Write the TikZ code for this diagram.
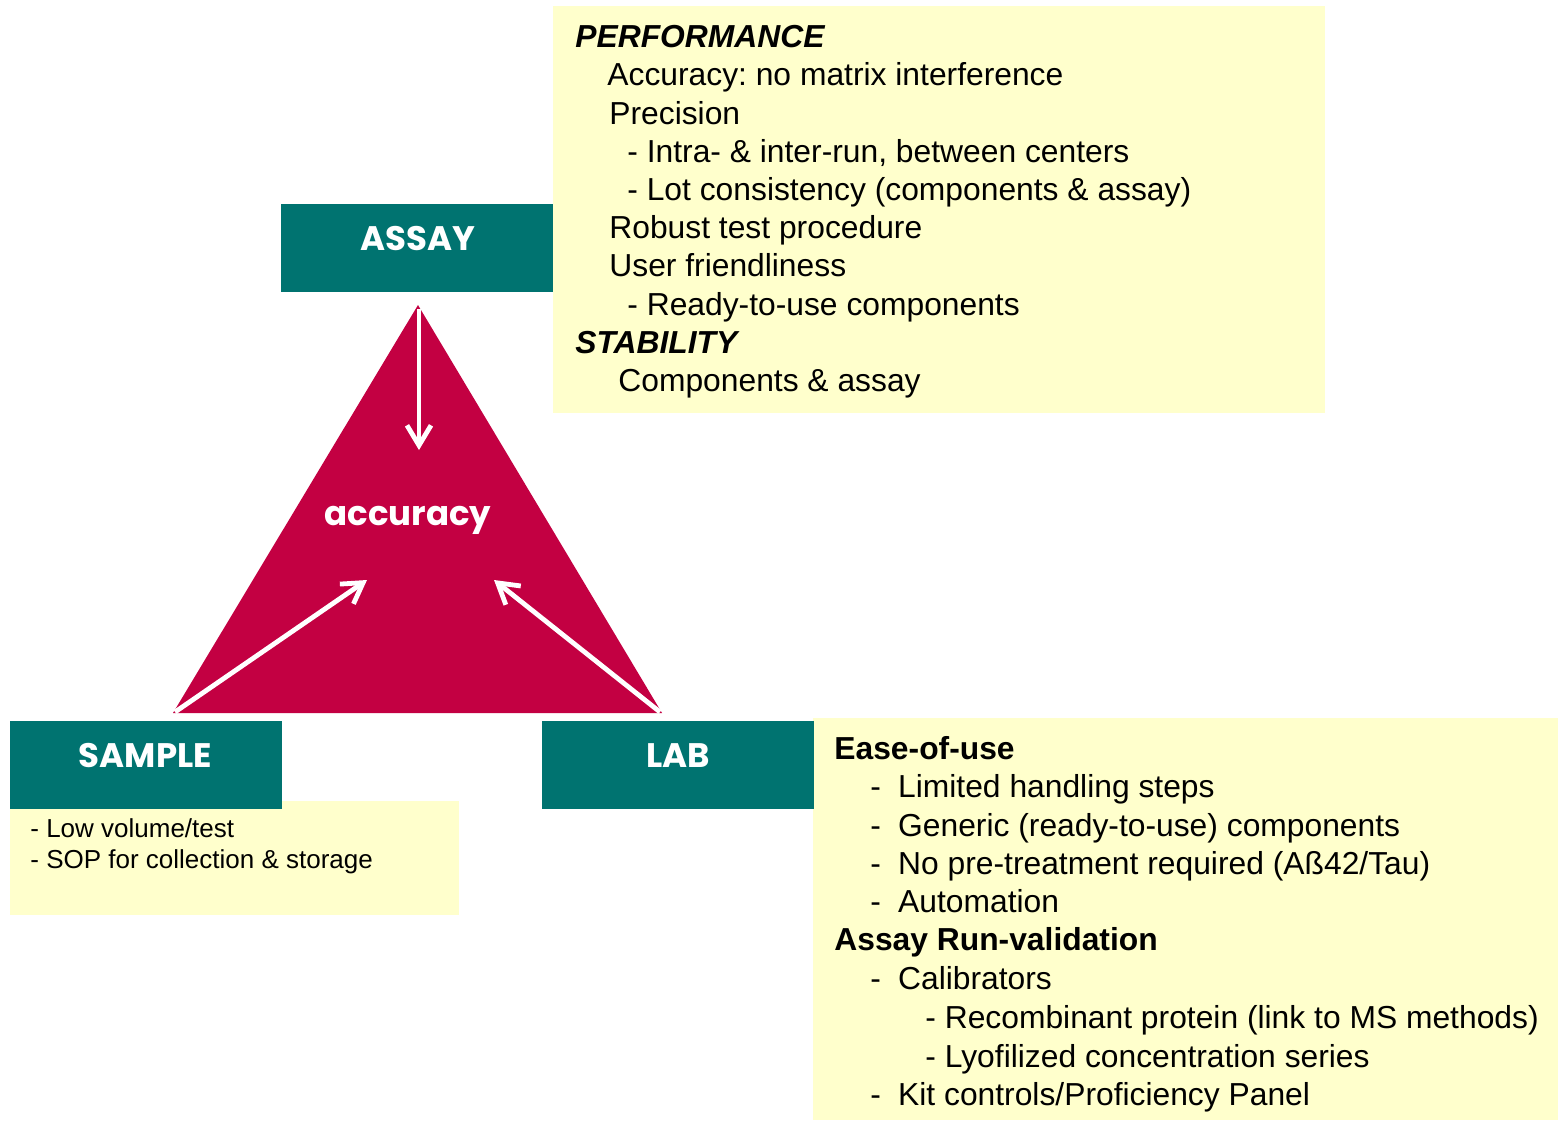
\documentclass[tikz,border=0pt]{standalone}
\usepackage{fontspec}
\setmainfont{Liberation Sans}
\newfontfamily\decofont{Poppins}
\usetikzlibrary{arrows.meta}
\definecolor{tealbox}{HTML}{007370}
\definecolor{crim}{HTML}{C30042}
\definecolor{paleyel}{HTML}{FFFFCC}
\newcommand{\dd}{-\hspace{8.6pt}}
\begin{document}
\frenchspacing
\begin{tikzpicture}[x=0.5pt,y=-0.5pt,
  txt/.style={anchor=base west, inner sep=0pt, font=\fontsize{15.9}{18}\selectfont},
  txtb/.style={txt, font=\fontsize{15.9}{18}\selectfont\bfseries},
  txtbi/.style={txt, font=\fontsize{15.9}{18}\selectfont\bfseries\itshape},
  txts/.style={anchor=base west, inner sep=0pt, font=\fontsize{13}{15}\selectfont},
  tbox/.style={fill=tealbox, draw=none, anchor=north west, minimum width=136pt, minimum height=44pt, inner sep=0pt},
  ybox/.style={fill=paleyel, draw=none, anchor=north west, inner sep=0pt},
  tlabel/.style={text=white, inner sep=0pt, font=\decofont\bfseries\fontsize{17}{20}\selectfont},
  warrow/.style={draw=white, line width=2.4pt, -{Straight Barb[length=10pt,width=12pt,line width=2.4pt]}}
]
\useasboundingbox (0,0) rectangle (1558,1120);
\fill[white] (0,0) rectangle (1558,1120);

% yellow panels
\node[ybox, minimum width=386pt, minimum height=203.5pt] (perfbox) at (553,6) {};
\node[ybox, minimum width=224.5pt, minimum height=57pt] (samplebox) at (10,801) {};
\node[ybox, minimum width=372.5pt, minimum height=201pt] (labbox) at (813,718) {};

% triangle
\coordinate (apex) at (418,305);
\coordinate (bl) at (173,713);
\coordinate (br) at (662,713);
\fill[crim] (apex) -- (bl) -- (br) -- cycle;

% teal boxes
\node[tbox] (assay) at (281,204) {};
\node[tbox] (sample) at (10,721) {};
\node[tbox] (lab) at (542,721) {};
\node[tlabel] (assayt) at (418,238.5) {ASSAY};
\node[tlabel] (samplet) at (145.5,755.5) {SAMPLE};
\node[tlabel] (labt) at (678,755.5) {LAB};

% center label
\node[tlabel, anchor=base] (acc) at (408,525) {accuracy};

% arrows
\coordinate (a1s) at (419,309);
\coordinate (a1e) at (419,450);
\coordinate (a2s) at (175,712);
\coordinate (a2e) at (367,580);
\coordinate (a3s) at (660,712);
\coordinate (a3e) at (494,580);
\draw[warrow] (a1s) -- (a1e);
\draw[warrow] (a2s) -- (a2e);
\draw[warrow] (a3s) -- (a3e);

% performance text
\node[txtbi] (p1) at (575,47) {PERFORMANCE};
\node[txt] (p2) at (607,85) {Accuracy: no matrix interference};
\node[txt] (p3) at (609,124) {Precision};
\node[txt] (p4) at (627,162) {- Intra- \& inter-run, between centers};
\node[txt] (p5) at (627,200) {- Lot consistency (components \& assay)};
\node[txt] (p6) at (609,238) {Robust test procedure};
\node[txt] (p7) at (609,276) {User friendliness};
\node[txt] (p8) at (627,315) {- Ready-to-use components};
\node[txtbi] (p9) at (575,353) {STABILITY};
\node[txt] (p10) at (618,391) {Components \& assay};

% sample text
\node[txts] (s1) at (30,837) {- Low volume/test};
\node[txts] (s2) at (30,868) {- SOP for collection \& storage};

% lab text
\node[txtb] (l1) at (834,759) {Ease-of-use};
\node[txt] (l2) at (870,797) {\dd Limited handling steps};
\node[txt] (l3) at (870,836) {\dd Generic (ready-to-use) components};
\node[txt] (l4) at (870,874) {\dd No pre-treatment required (Aß42/Tau)};
\node[txt] (l5) at (870,912) {\dd Automation};
\node[txtb] (l6) at (834,950) {Assay Run-validation};
\node[txt] (l7) at (870,989) {\dd Calibrators};
\node[txt] (l8) at (925,1028) {- Recombinant protein (link to MS methods)};
\node[txt] (l9) at (925,1067) {- Lyofilized concentration series};
\node[txt] (l10) at (870,1105) {\dd Kit controls/Proficiency Panel};
\end{tikzpicture}
\end{document}
